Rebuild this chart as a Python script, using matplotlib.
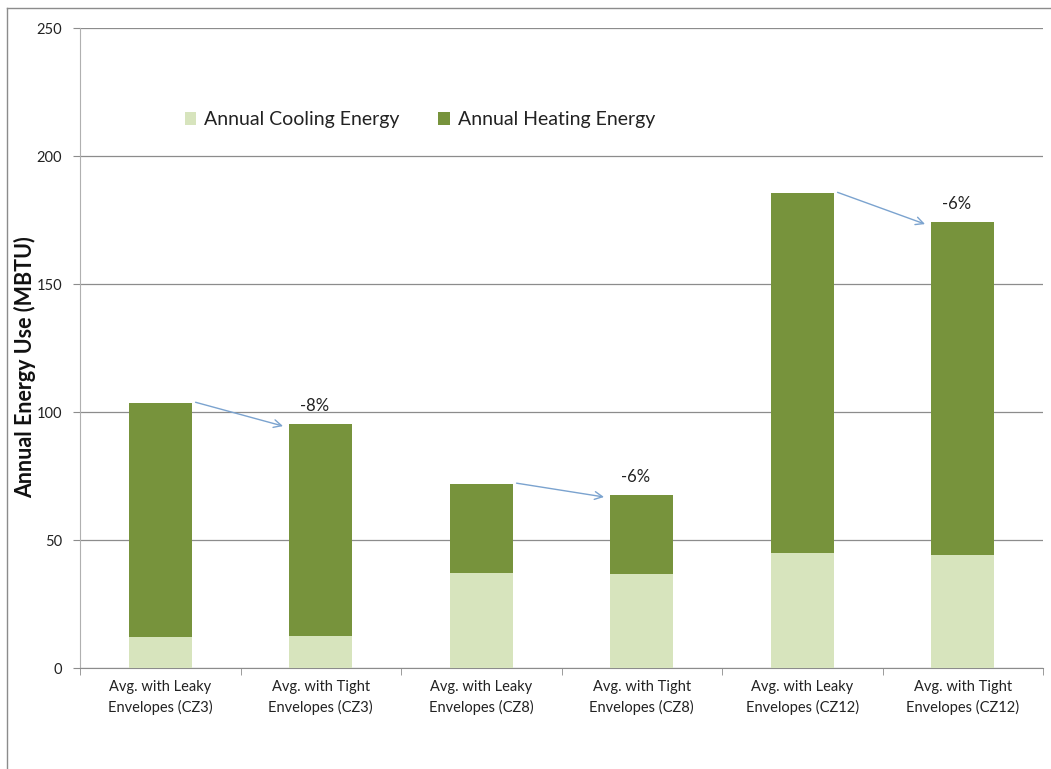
import matplotlib.pyplot as plt
from matplotlib.lines import Line2D
import numpy as np

# data
categories = ["Avg. with Leaky\nEnvelopes (CZ3)", "Avg. with Tight\nEnvelopes (CZ3)",
              "Avg. with Leaky\nEnvelopes (CZ8)", "Avg. with Tight\nEnvelopes (CZ8)",
              "Avg. with Leaky\nEnvelopes (CZ12)", "Avg. with Tight\nEnvelopes (CZ12)"]
cooling = [12.1, 12.5, 37.1, 36.7, 44.9, 44.1]
heating = [91.4, 82.8, 34.8, 30.9, 140.6, 130.1]
pairs = [(0, 1), (2, 3), (4, 5)]
change_labels = ["-8%", "-6%", "-6%"]

c_cool = "#D7E4BD"
c_heat = "#77933C"
c_arrow = "#7BA3CF"
grid_c = "#8C8C8C"

plt.rcParams['font.family'] = ['Lato', 'DejaVu Sans']

W, H = 1051, 769
fig = plt.figure(figsize=(W / 100, H / 100), dpi=100)
ax = fig.add_axes([80 / W, (H - 668) / H, 963 / W, 640 / H])

x = np.arange(len(categories))
total = np.array(cooling) + np.array(heating)
ax.bar(x, cooling, width=0.39, color=c_cool, label="Annual Cooling Energy", zorder=3)
ax.bar(x, heating, width=0.39, bottom=cooling, color=c_heat, label="Annual Heating Energy", zorder=3)

# arrows between leaky and tight bars
for (a, b), lab in zip(pairs, change_labels):
    ax.annotate("", xy=(b - 0.235, total[b] - 0.8), xytext=(a + 0.22, total[a] + 0.3),
                arrowprops=dict(arrowstyle="->", color=c_arrow, lw=1.0,
                                shrinkA=0, shrinkB=0, mutation_scale=14), zorder=4)
    ax.annotate(lab, xy=(b - 0.04, total[b]), xytext=(0, 7), textcoords="offset points",
                ha="center", va="bottom", fontsize=12, color="#222222")

ax.set_xlim(-0.5, len(categories) - 0.5)
ax.set_ylim(0, 250)
ax.set_yticks(range(0, 251, 50))
ax.yaxis.grid(True, color=grid_c, lw=0.9, zorder=0)
ax.set_axisbelow(True)

ax.set_xticks(x)
ax.set_xticklabels(categories, fontsize=10.5, color="#222222", linespacing=1.45)
ax.set_xticks(np.arange(-0.5, len(categories)), minor=True)
ax.tick_params(axis="x", which="major", length=0, pad=9)
ax.tick_params(axis="x", which="minor", length=5, color=grid_c)
ax.tick_params(axis="y", length=5, color=grid_c, labelsize=10.5, labelcolor="#222222", pad=8)

for s in ["top", "right"]:
    ax.spines[s].set_visible(False)
ax.spines["left"].set_color("#B0B0B0")
ax.spines["bottom"].set_color(grid_c)

fig.text(25 / W, 1 - 367 / H, "Annual Energy Use (MBTU)", rotation=90, ha="center", va="center",
         fontsize=15.5, fontweight="bold", color="#111111")

leg = ax.legend(loc="center left", bbox_to_anchor=(167 / W, 1 - 120 / H),
                bbox_transform=fig.transFigure, ncol=2, frameon=False, fontsize=14,
                handlelength=0.6, handleheight=0.6, handletextpad=0.4, columnspacing=2.0)
for t in leg.get_texts():
    t.set_color("#222222")

# chart area border (top and left visible)
fig.add_artist(Line2D([7 / W, 1], [1 - 8 / H, 1 - 8 / H], transform=fig.transFigure, color="#8C8C8C", lw=1))
fig.add_artist(Line2D([7 / W, 7 / W], [0, 1 - 8 / H], transform=fig.transFigure, color="#8C8C8C", lw=1))

fig.savefig("out.png", dpi=100)
